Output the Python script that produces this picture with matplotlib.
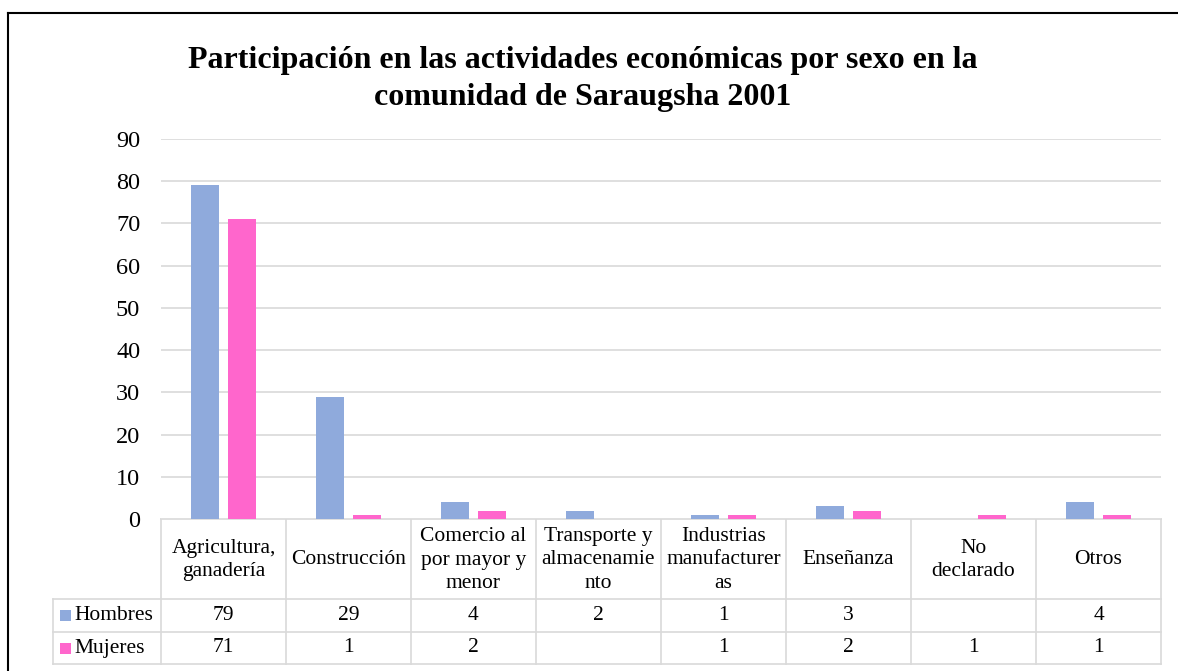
import matplotlib
matplotlib.use('Agg')
import matplotlib.pyplot as plt
import numpy as np

categories = ["Agricultura,\nganadería", "Construcción", "Comercio al\npor mayor y\nmenor",
              "Transporte y\nalmacenamie\nnto", "Industrias\nmanufacturer\nas", "Enseñanza",
              "No\ndeclarado", "Otros"]
hombres = [79, 29, 4, 2, 1, 3, None, 4]
mujeres = [71, 1, 2, None, 1, 2, 1, 1]
series_names = ["Hombres", "Mujeres"]
colors = ["#8FAADC", "#FF66CC"]
yticks = [0, 10, 20, 30, 40, 50, 60, 70, 80, 90]
title = "Participación en las actividades económicas por sexo en la\ncomunidad de Saraugsha 2001"

plt.rcParams['font.family'] = ['Liberation Serif', 'DejaVu Serif']
W, H = 1178, 671
fig = plt.figure(figsize=(W / 100, H / 100), dpi=100)

grid_c = "#D9D9D9"
fs = 15.5

ax = fig.add_axes([161 / W, 1 - 519 / H, 1000 / W, 380 / H])
n = len(categories)
x = np.arange(n) + 0.5
bw = 0.225
off = 0.145
for vals, sgn, c in [(hombres, -1, colors[0]), (mujeres, 1, colors[1])]:
    v = [np.nan if a is None else a for a in vals]
    ax.bar(x + sgn * off, v, bw, color=c, linewidth=0, zorder=3)
ax.set_xlim(0, n)
ax.set_ylim(0, 90)
ax.set_yticks(yticks)
ax.set_xticks([])
ax.tick_params(axis='y', length=0, pad=15, labelsize=17.5)
for s in ax.spines.values():
    s.set_visible(False)
ax.yaxis.grid(True, color=grid_c, linewidth=1.2, zorder=0)
ax.set_axisbelow(True)

# overlay in pixel coordinates
ov = fig.add_axes([0, 0, 1, 1], zorder=-1)
ov.set_xlim(0, W)
ov.set_ylim(H, 0)
ov.axis('off')

fig.canvas.draw()
bounds = []
for b in range(n + 1):
    px = ax.transData.transform((b, 0))[0]
    bounds.append(px)
y0 = H - ax.transData.transform((0, 0))[1]
y_hdr = 599
y_r1 = 632
y_r2 = 664
x_hdr = 53
lw = 1.2
ov.plot([bounds[0], bounds[-1]], [y0, y0], color=grid_c, lw=lw)
for yy in [y_hdr, y_r1, y_r2]:
    ov.plot([x_hdr, bounds[-1]], [yy, yy], color=grid_c, lw=lw)
for bx in bounds:
    ov.plot([bx, bx], [y0, y_r2], color=grid_c, lw=lw)
ov.plot([x_hdr, x_hdr], [y_hdr, y_r2], color=grid_c, lw=lw)

for i, cat in enumerate(categories):
    cx = (bounds[i] + bounds[i + 1]) / 2
    ov.text(cx, (y0 + y_hdr) / 2 + 1, cat, ha='center', va='center', fontsize=fs, linespacing=1.3)
    for vals, yy0, yy1 in [(hombres, y_hdr, y_r1), (mujeres, y_r1, y_r2)]:
        if vals[i] is not None:
            ov.text(cx, (yy0 + yy1) / 2, str(vals[i]), ha='center', va='center', fontsize=fs)

for name, c, yy0, yy1 in [(series_names[0], colors[0], y_hdr, y_r1), (series_names[1], colors[1], y_r1, y_r2)]:
    cy = (yy0 + yy1) / 2
    ov.add_patch(plt.Rectangle((60, cy - 5.5), 11, 11, color=c, linewidth=0))
    ov.text(74, cy, name, ha='left', va='center', fontsize=fs)

# title
ov.text(583, 79, title, ha='center', va='center', fontsize=23, fontweight='bold', linespacing=1.33)

# outer frame (top & left visible)
ov.plot([8, 8], [13, H + 5], color='black', lw=1.5)
ov.plot([8, W + 5], [13, 13], color='black', lw=1.5)

fig.savefig("out.png", dpi=100)
